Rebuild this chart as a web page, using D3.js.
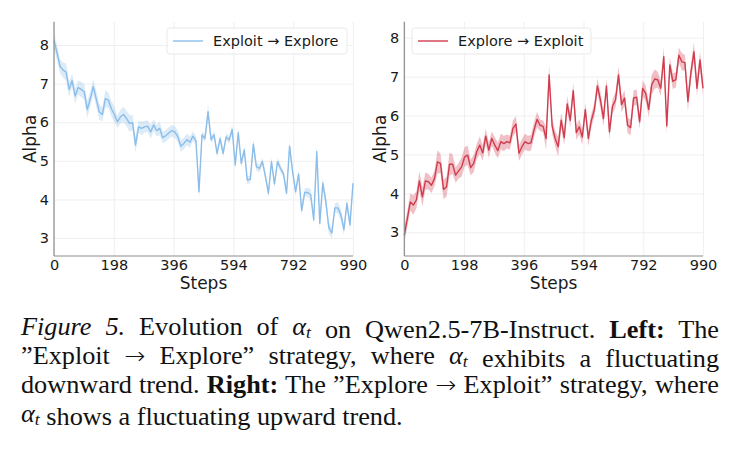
<!DOCTYPE html>
<html>
<head>
<meta charset="utf-8">
<script src="https://cdn.jsdelivr.net/npm/d3@7"></script>
<style>
  body { margin: 0; background: #fff; }
  svg { display: block; }
</style>
</head>
<body>
<svg id="fig" width="737" height="453"></svg>
<script>
// training steps (x) shared by both panels
const steps = [0,10,20,30,40,50,60,70,80,90,100,110,120,130,140,150,160,170,180,190,
  200,210,220,230,240,250,260,270,280,290,300,310,320,330,340,350,360,370,380,390,
  400,410,420,430,440,450,460,470,480,490,500,510,520,530,540,550,560,570,580,590,
  600,610,620,630,640,650,660,670,680,690,700,710,720,730,740,750,760,770,780,790,
  800,810,820,830,840,850,860,870,880,890,900,910,920,930,940,950,960,970,980,990]

// left: Exploit -> Explore, mean alpha and half band width
const exploitExplore = [8.11,7.8,7.45,7.35,7.3,6.85,7.08,6.68,6.9,6.85,
  6.79,6.33,6.6,6.92,6.6,6.27,6.2,6.61,6.57,6.35,
  6.2,6.01,6.14,6.2,6.1,5.97,5.99,5.41,5.88,5.84,
  5.88,5.9,5.75,5.93,5.78,5.84,5.6,5.65,5.72,5.78,
  5.75,5.63,5.38,5.45,5.55,5.48,5.64,5.52,4.2,5.67,
  5.58,6.27,5.55,5.67,5.19,5.58,5.19,5.62,5.54,5.81,
  4.89,5.73,4.93,5.28,4.5,4.52,5.43,4.85,4.8,4.98,
  4.6,4.16,4.98,4.4,4.98,4.8,4.66,4.16,5.38,4.72,
  4.2,4.66,3.71,4.18,4.18,4.12,3.47,5.24,3.38,4.42,
  3.95,3.26,3.13,3.78,3.78,3.6,3.22,3.9,3.34,4.42]
const exploitExploreErr = [0.2,0.2,0.18,0.2,0.22,0.2,0.18,0.2,0.18,0.2,
  0.2,0.22,0.2,0.2,0.2,0.2,0.18,0.22,0.2,0.2,
  0.2,0.15,0.18,0.2,0.2,0.22,0.2,0.2,0.15,0.18,
  0.15,0.15,0.18,0.15,0.15,0.18,0.15,0.15,0.15,0.15,
  0.15,0.15,0.15,0.15,0.15,0.15,0.12,0.12,0.2,0.1,
  0.1,0.2,0.1,0.1,0.1,0.1,0.1,0.1,0.1,0.12,
  0.1,0.12,0.1,0.1,0.1,0.1,0.15,0.1,0.1,0.1,
  0.1,0.12,0.12,0.1,0.1,0.1,0.1,0.12,0.12,0.1,
  0.12,0.1,0.12,0.1,0.12,0.15,0.12,0.15,0.15,0.15,
  0.15,0.15,0.15,0.12,0.15,0.15,0.15,0.12,0.15,0.12]

// right: Explore -> Exploit
const exploreExploit = [2.93,3.35,3.78,3.7,3.83,4.32,3.91,4.32,4.3,4.21,
  4.38,4.81,4.77,4.1,4.17,4.75,4.75,4.47,4.58,4.68,
  4.94,4.98,4.66,4.77,5.07,5.24,5.04,5.47,5.11,5.41,
  5.24,5.1,5.33,5.28,5.33,5.3,5.67,5.78,5.03,5.2,
  5.33,5.28,5.3,5.63,5.9,5.75,5.72,5.41,7.04,5.73,
  5.41,5.2,5.88,5.43,6.3,5.88,6.64,5.56,5.71,5.45,
  6.15,5.41,5.88,6.15,6.76,6.4,5.92,6.76,5.58,6.24,
  6.4,7.04,6.28,6.45,5.75,5.69,6.45,6.47,5.84,6.7,
  6.57,6.16,6.79,6.94,6.92,6.7,7.51,5.73,7.3,6.88,
  6.92,7.55,7.38,7.36,6.36,7.1,7.64,6.7,7.43,6.7]
const exploreExploitErr = [0.2,0.2,0.22,0.25,0.22,0.25,0.25,0.22,0.2,0.2,
  0.2,0.3,0.25,0.25,0.25,0.3,0.25,0.2,0.2,0.25,
  0.25,0.25,0.2,0.22,0.2,0.22,0.2,0.2,0.2,0.18,
  0.2,0.2,0.2,0.2,0.18,0.18,0.2,0.2,0.2,0.2,
  0.2,0.2,0.2,0.2,0.2,0.15,0.15,0.3,0.25,0.2,
  0.2,0.25,0.2,0.2,0.2,0.18,0.2,0.18,0.2,0.2,
  0.18,0.2,0.18,0.18,0.2,0.2,0.2,0.2,0.2,0.18,
  0.2,0.22,0.2,0.2,0.2,0.2,0.2,0.2,0.2,0.2,
  0.2,0.2,0.25,0.25,0.2,0.2,0.25,0.2,0.2,0.2,
  0.2,0.2,0.22,0.2,0.25,0.2,0.25,0.2,0.22,0.2]

const xTicks = [0,198,396,594,792,990]
const yTicks = [3,4,5,6,7,8]

const sans = "'DejaVu Sans', sans-serif"
const serif = "'Liberation Serif', 'Times New Roman', serif"

const svg = d3.select("#fig")

function drawPanel(p){
    let xScale = d3.scaleLinear().domain([0, 990]).range([p.left, p.right])
    let yScale = d3.scaleLinear().domain(p.yDomain).range([p.bottom, p.top])
    let g = svg.append("g")

    // grid
    g.append("g")
        .attr("transform", `translate(0,${p.bottom})`)
        .call(d3.axisBottom(xScale).tickValues(xTicks).tickSize(-(p.bottom - p.top)).tickFormat(""))
        .call(a => a.select(".domain").remove())
        .selectAll("line").attr("stroke", "#ebebeb").attr("stroke-width", 0.8)
    g.append("g")
        .attr("transform", `translate(${p.left},0)`)
        .call(d3.axisLeft(yScale).tickValues(yTicks).tickSize(-(p.right - p.left)).tickFormat(""))
        .call(a => a.select(".domain").remove())
        .selectAll("line").attr("stroke", "#ebebeb").attr("stroke-width", 0.8)

    let data = steps.map((s, i) => ({step: s, value: p.values[i], err: p.err[i]}))

    let band = d3.area()
        .x(d => xScale(d.step))
        .y0(d => yScale(d.value - d.err))
        .y1(d => yScale(d.value + d.err))
    g.append("path")
        .datum(data)
        .attr("d", band)
        .attr("fill", p.color)
        .attr("fill-opacity", p.bandOpacity)

    let line = d3.line()
        .x(d => xScale(d.step))
        .y(d => yScale(d.value))
    g.append("path")
        .datum(data)
        .attr("d", line)
        .attr("fill", "none")
        .attr("stroke", p.color)
        .attr("stroke-width", 1.4)
        .attr("stroke-linejoin", "round")

    // axes with spines on the left and bottom
    let xAxis = g.append("g")
        .attr("transform", `translate(0,${p.bottom})`)
        .call(d3.axisBottom(xScale).tickValues(xTicks).tickSize(0).tickPadding(4))
    let yAxis = g.append("g")
        .attr("transform", `translate(${p.left},0)`)
        .call(d3.axisLeft(yScale).tickValues(yTicks).tickSize(0).tickPadding(5).tickFormat(d3.format("d")))
    for (let ax of [xAxis, yAxis]){
        ax.select(".domain").attr("stroke", "#8c8c8c").attr("stroke-width", 1.2)
        ax.selectAll("text")
            .style("font-family", sans)
            .style("font-size", "14.5px")
            .attr("fill", "#1a1a1a")
    }
    xAxis.select(".domain").attr("d", `M${p.left},0H${p.right}`)
    yAxis.select(".domain").attr("d", `M0,${p.top}V${p.bottom}`)

    g.append("text")
        .attr("x", (p.left + p.right) / 2)
        .attr("y", 288.5)
        .attr("text-anchor", "middle")
        .style("font-family", sans)
        .style("font-size", "17px")
        .attr("fill", "#1a1a1a")
        .text("Steps")
    g.append("text")
        .attr("transform", `translate(${p.yLabelX},${(p.top + p.bottom) / 2}) rotate(-90)`)
        .attr("text-anchor", "middle")
        .style("font-family", sans)
        .style("font-size", "17px")
        .attr("fill", "#1a1a1a")
        .text("Alpha")

    // legend
    let lg = g.append("g").attr("transform", `translate(${p.legendX},28)`)
    lg.append("rect")
        .attr("width", p.legendW).attr("height", 26)
        .attr("rx", 3)
        .attr("fill", "#fff").attr("fill-opacity", 0.8)
        .attr("stroke", "#e3e3e3").attr("stroke-width", 0.8)
    lg.append("line")
        .attr("x1", 6).attr("x2", 36).attr("y1", 13).attr("y2", 13)
        .attr("stroke", p.color).attr("stroke-width", 1.4)
    lg.append("text")
        .attr("x", 46).attr("y", 18)
        .style("font-family", sans)
        .style("font-size", "14.5px")
        .attr("fill", "#1a1a1a")
        .text(p.label)
}

drawPanel({
    left: 54, right: 353, top: 21.7, bottom: 256,
    yDomain: [2.534, 8.604],
    values: exploitExplore, err: exploitExploreErr,
    color: "#8bbde9", bandOpacity: 0.3,
    label: "Exploit \u2192 Explore",
    legendX: 167, legendW: 180, yLabelX: 35.5
})
drawPanel({
    left: 404.3, right: 703, top: 21.7, bottom: 256,
    yDomain: [2.391, 8.411],
    values: exploreExploit, err: exploreExploitErr,
    color: "#d03c4e", bandOpacity: 0.32,
    label: "Explore \u2192 Exploit",
    legendX: 412, legendW: 179, yLabelX: 386
})

// caption, set as justified lines of serif text (slightly widened like the reference)
const captionLines = [
    [{t: "Figure 5.", i: 1}, {t: " Evolution of "}, {a: 1}, {t: " on Qwen2.5-7B-Instruct. "}, {t: "Left:", b: 1}, {t: " The"}],
    [{t: "\u201DExploit "}, {arrow: 1}, {t: " Explore\u201D strategy, where "}, {a: 1}, {t: " exhibits a fluctuating"}],
    [{t: "downward trend. "}, {t: "Right:", b: 1}, {t: " The \u201DExplore "}, {arrow: 1}, {t: " Exploit\u201D strategy, where"}],
    [{a: 1}, {t: " shows a fluctuating upward trend."}]
]
const capLeft = 21, capRight = 719, capTop = 335, capStep = 29, capStretch = 1.05
const capWidth = (capRight - capLeft) / capStretch

const cap = svg.append("g")
    .attr("transform", `translate(${capLeft},0) scale(${capStretch},1)`)

captionLines.forEach((parts, li) => {
    let txt = cap.append("text")
        .attr("x", 0)
        .attr("y", capTop + li * capStep)
        .style("font-family", serif)
        .style("font-size", "25px")
        .attr("fill", "#111")
    for (let part of parts){
        if (part.a){
            txt.append("tspan").style("font-style", "italic").text("\u03B1")
            txt.append("tspan").style("font-style", "italic").style("font-size", "17px").attr("dy", 3).text("t")
            txt.append("tspan").attr("dy", -3).text("")
        } else if (part.arrow){
            txt.append("tspan")
                .style("font-family", sans)
                .style("font-size", "24px")
                .style("font-weight", 200)
                .text("\u2192")
        } else {
            txt.append("tspan")
                .style("font-style", part.i ? "italic" : null)
                .style("font-weight", part.b ? "bold" : null)
                .text(part.t)
        }
    }
    if (li < captionLines.length - 1){
        let natural = txt.node().getComputedTextLength()
        let spaces = parts.map(p => p.t ? p.t.split(" ").length - 1 : 0).reduce((a, b) => a + b, 0)
        txt.style("word-spacing", ((capWidth - natural) / spaces) + "px")
    }
})
</script>
</body>
</html>
